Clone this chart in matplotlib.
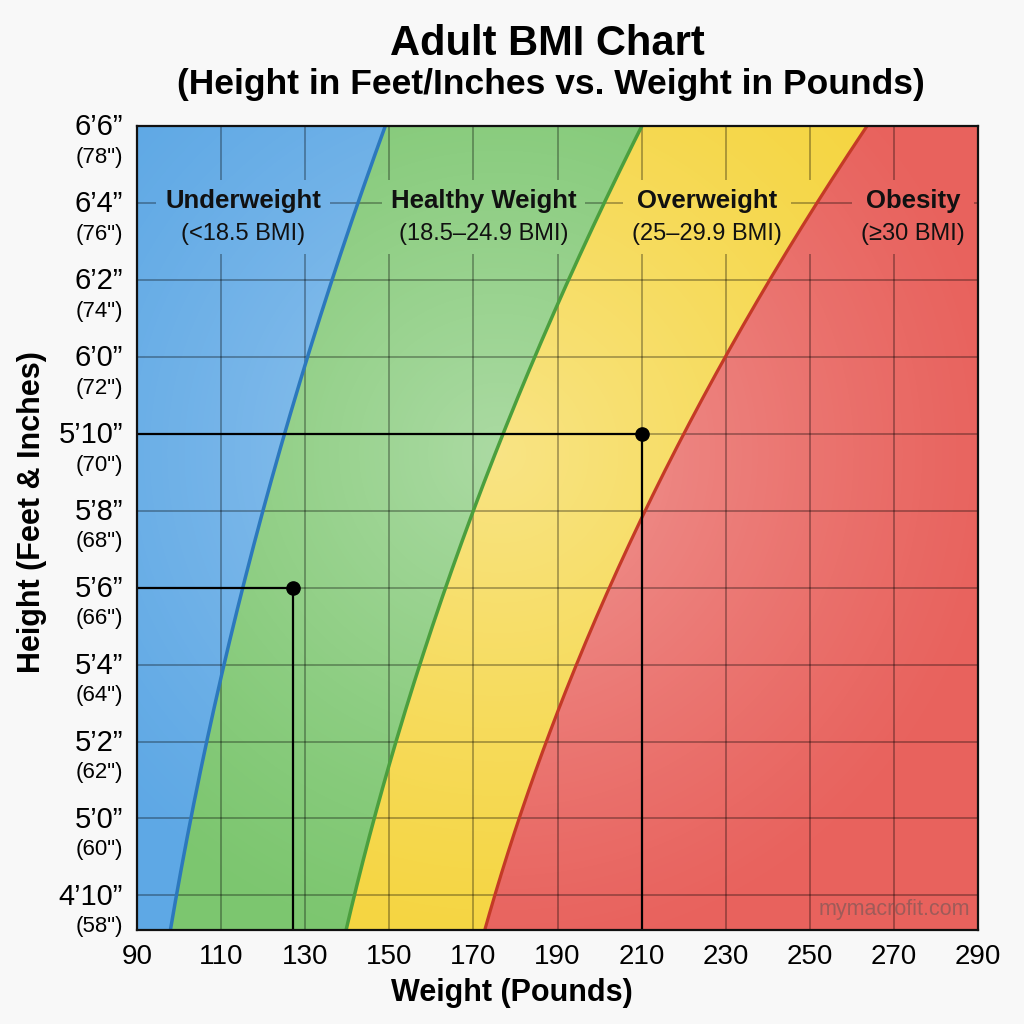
import numpy as np
import matplotlib.pyplot as plt
from matplotlib.transforms import Bbox

plt.rcParams['font.family'] = ['Liberation Sans', 'DejaVu Sans']

# ---------------------------------------------------------------------
# Data
# ---------------------------------------------------------------------
heights = [57, 58, 60, 62, 64, 66, 68, 70, 72, 74, 76, 78]          # inches
bmi_18_5 = [97.9, 99.4, 102.8, 106.4, 110.4, 115.2, 120.5, 125.0, 130.4, 136.4, 142.6, 149.0]
bmi_25 = [139.6, 141.7, 146.7, 151.1, 157.1, 163.3, 170.2, 177.0, 185.0, 192.9, 200.5, 210.2]
bmi_30 = [172.3, 175.1, 180.7, 187.4, 194.9, 202.9, 210.7, 219.5, 229.8, 240.5, 251.4, 264.0]

point_weights = [127.2, 210]
point_heights = [66, 70]

ytick_vals = [58, 60, 62, 64, 66, 68, 70, 72, 74, 76, 78]
feet_labels = ["4’10”", "5’0”", "5’2”", "5’4”", "5’6”", "5’8”",
               "5’10”", "6’0”", "6’2”", "6’4”", "6’6”"]
inch_labels = ['(58")', '(60")', '(62")', '(64")', '(66")', '(68")',
               '(70")', '(72")', '(74")', '(76")', '(78")']
xtick_vals = [90, 110, 130, 150, 170, 190, 210, 230, 250, 270, 290]

cat_names = ["Underweight", "Healthy Weight", "Overweight", "Obesity"]
cat_ranges = ["(<18.5 BMI)", "(18.5–24.9 BMI)", "(25–29.9 BMI)", "(≥30 BMI)"]
cat_x = [115.2, 172.4, 225.5, 274.5]

XMIN, XMAX = 90, 290
YMIN, YMAX = 57.1, 78

# colours
blue, green, yellow, red = "#5ea8e5", "#7cc66f", "#f5d540", "#e8625d"
blue_line, green_line, red_line = "#2c78bd", "#4b9f3e", "#c43a26"

# ---------------------------------------------------------------------
# Smooth boundary curves through the read points
# ---------------------------------------------------------------------
hs = np.linspace(heights[0], heights[-1], 200)
def smooth(vals):
    return np.polyval(np.polyfit(heights, vals, 2), hs)

b1, b2, b3 = smooth(bmi_18_5), smooth(bmi_25), smooth(bmi_30)

# ---------------------------------------------------------------------
# Figure
# ---------------------------------------------------------------------
fig = plt.figure(figsize=(10.24, 10.24), dpi=100, facecolor="#f8f8f8")
ax = fig.add_axes([137/1024, 94/1024, 841/1024, 804/1024])
ax.set_xlim(XMIN, XMAX)
ax.set_ylim(YMIN, YMAX)

# zones
ax.fill_betweenx(hs, XMIN, b1, color=blue, lw=0, zorder=1)
ax.fill_betweenx(hs, b1, b2, color=green, lw=0, zorder=1)
ax.fill_betweenx(hs, b2, b3, color=yellow, lw=0, zorder=1)
ax.fill_betweenx(hs, b3, XMAX, color=red, lw=0, zorder=1)

# soft light in the middle of the chart
gx = np.linspace(XMIN, XMAX, 300)
gy = np.linspace(YMIN, YMAX, 300)
X, Y = np.meshgrid(gx, gy)
dx = (X - 176) / (XMAX - XMIN) * 841
dy = (Y - 69.5) * 38.5
r = np.hypot(dx, dy) / 520
glow = np.zeros(X.shape + (4,))
glow[..., :3] = 1.0
glow[..., 3] = 0.36 * np.clip(1 - r, 0, 1) ** 1.2
ax.imshow(glow, extent=(XMIN, XMAX, YMIN, YMAX), origin="lower",
          aspect="auto", interpolation="bilinear", zorder=1.5)

# category labels
label_texts = []
for name, rng, x in zip(cat_names, cat_ranges, cat_x):
    t1 = ax.text(x, 76.05, name, ha="center", va="center", fontsize=18.5,
                 fontweight="bold", color="#111111", zorder=5)
    t2 = ax.text(x, 75.2, rng, ha="center", va="center", fontsize=17,
                 color="#111111", zorder=5)
    label_texts.append((t1, t2))

# grid with gaps behind the labels
fig.canvas.draw()
renderer = fig.canvas.get_renderer()
inv = ax.transData.inverted()
gaps = []
for t1, t2 in label_texts:
    bb = Bbox.union([t1.get_window_extent(renderer), t2.get_window_extent(renderer)])
    bb = bb.padded(9)
    gaps.append(bb.transformed(inv))
band_lo = min(g.y0 for g in gaps)
band_hi = max(g.y1 for g in gaps)

grid_kw = dict(color="black", alpha=0.38, lw=1.1, zorder=2)
for x in xtick_vals[1:-1]:
    ax.vlines(x, YMIN, band_lo, **grid_kw)
    ax.vlines(x, band_hi, YMAX, **grid_kw)
for y in ytick_vals[:-1]:
    cuts = sorted((g.x0, g.x1) for g in gaps if g.y0 <= y <= g.y1)
    start = XMIN
    for a, b in cuts:
        ax.hlines(y, start, a, **grid_kw)
        start = b
    ax.hlines(y, start, XMAX, **grid_kw)

# BMI boundary curves
ax.plot(b1, hs, color=blue_line, lw=2.5, zorder=3)
ax.plot(b2, hs, color=green_line, lw=2.5, zorder=3)
ax.plot(b3, hs, color=red_line, lw=2.3, zorder=3)

# example readings
for w, h in zip(point_weights, point_heights):
    ax.hlines(h, XMIN, w, color="black", lw=1.6, zorder=4)
    ax.vlines(w, YMIN, h, color="black", lw=1.6, zorder=4)
ax.plot(point_weights, point_heights, "o", color="black", ms=9.5, zorder=4)

# axes
for s in ax.spines.values():
    s.set_linewidth(1.6)
    s.set_color("#111111")
    s.set_zorder(6)
ax.set_xticks(xtick_vals)
ax.set_xticklabels([str(v) for v in xtick_vals], fontsize=20)
ax.set_yticks(ytick_vals)
ax.set_yticklabels([])
ax.tick_params(length=0, pad=10)

ytrans = ax.get_yaxis_transform()
for h, ft, inch in zip(ytick_vals, feet_labels, inch_labels):
    ax.annotate(ft, xy=(0, h), xycoords=ytrans, xytext=(-10, -1),
                textcoords="offset points", ha="right", va="center", fontsize=21)
    ax.annotate(inch, xy=(0, h), xycoords=ytrans, xytext=(-10, -22.5),
                textcoords="offset points", ha="right", va="center", fontsize=16)

ax.text(0.99, 0.012, "mymacrofit.com", transform=ax.transAxes, ha="right",
        va="bottom", fontsize=15.5, color="#555555", alpha=0.5, zorder=5)

fig.text(0.5, 0.030, "Weight (Pounds)", ha="center", va="center",
         fontsize=22, fontweight="bold")
fig.text(0.031, 0.5, "Height (Feet & Inches)", ha="center", va="center",
         rotation=90, fontsize=22, fontweight="bold")
fig.text(0.535, 0.957, "Adult BMI Chart", ha="center", va="center",
         fontsize=30, fontweight="bold")
fig.text(0.538, 0.917, "(Height in Feet/Inches vs. Weight in Pounds)",
         ha="center", va="center", fontsize=25.5, fontweight="bold")

fig.savefig("out.png", dpi=100, facecolor=fig.get_facecolor())
